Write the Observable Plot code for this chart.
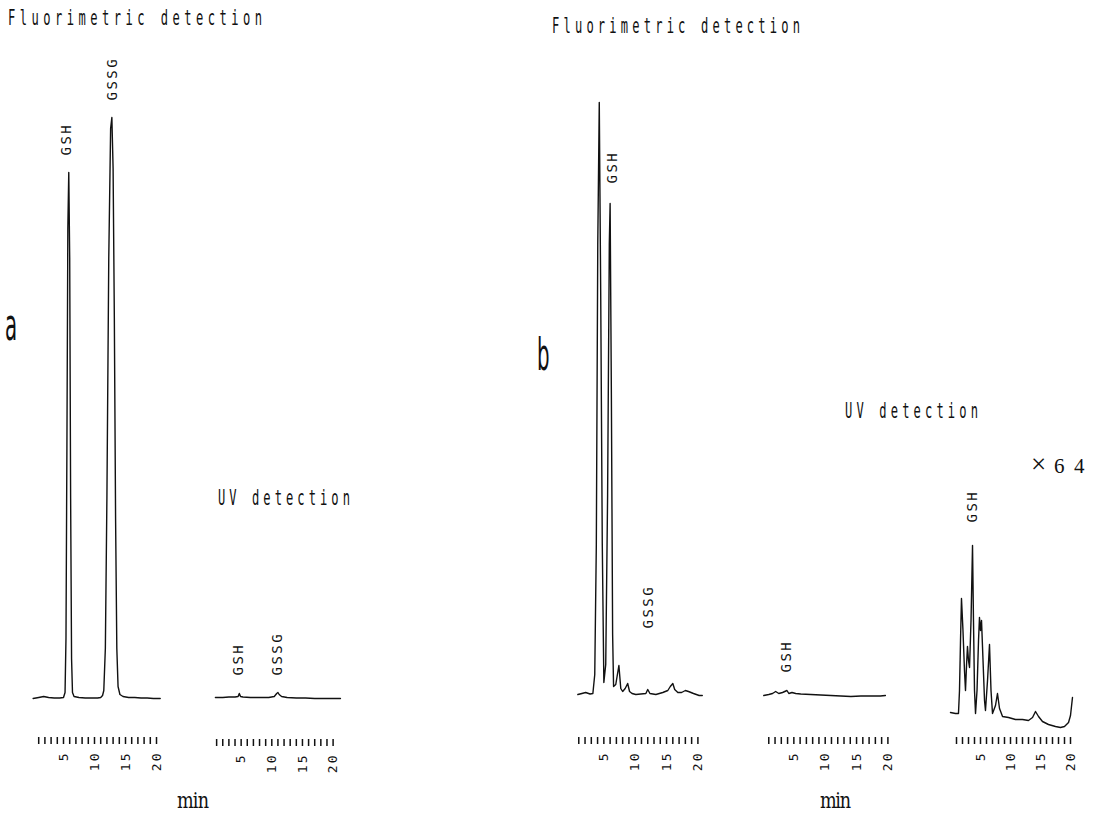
<!DOCTYPE html>
<html><head><meta charset="utf-8">
<script src="https://cdn.jsdelivr.net/npm/d3@7"></script>
<script src="https://cdn.jsdelivr.net/npm/@observablehq/plot@0.6"></script>
<style>
html,body{margin:0;padding:0;background:#fff;}
#fig{position:relative;width:1099px;height:813px;overflow:hidden;background:#fff;}
#fig svg{position:absolute;}
</style></head><body><div id="fig"></div>
<script>
// ---- data (time in min, detector response in arbitrary units) ----
const minuteTicks = [1,2,3,4,5,6,7,8,9,10,11,12,13,14,15,16,17,18,19,20];
const minuteLabels = [5,10,15,20];

// a: standard, fluorimetric detection
const aFluorTime   = [0.1,1.0,1.8,2.6,3.5,4.4,5.0,5.25,5.4,5.55,5.7,5.85,6.0,6.15,6.3,6.45,6.7,7.5,8.5,9.5,10.5,11.0,11.3,11.5,11.75,12.0,12.3,12.6,12.8,13.0,13.2,13.4,13.6,13.8,14.1,14.6,15.5,16.5,17.5,18.5,19.5,20.6];
const aFluorSignal = [0,1,2,1,0.5,0.5,1,6,60,250,470,526,440,200,40,6,2,1,0.5,0.5,0.5,1,3,8,50,200,440,570,581,530,380,180,50,12,4,2,1,1,0.5,0.5,0,0];
const aFluorPeakText = ["GSH","GSSG"];
const aFluorPeakTime = [5.5,12.95];
const aFluorPeakLevel = [543,598];

// a: standard, UV detection
const aUVTime   = [0.8,2.0,3.0,4.0,4.5,4.7,4.9,5.3,6.5,8.0,9.5,10.4,10.8,11.0,11.2,11.6,12.5,14.0,15.5,17.0,18.5,20.0,21.2];
const aUVSignal = [0,0,0.5,0.5,1,4,1,0.5,0,0,0,1,4,5,3,1,0,-0.5,-0.5,-1,-1,-1,-1];
const aUVPeakText = ["GSH","GSSG"];
const aUVPeakTime = [4.5,11.0];
const aUVPeakLevel = [22,22];

// b: sample, fluorimetric detection
const bFluorTime   = [0.85,1.5,2.1,2.8,3.25,3.55,3.8,4.03,4.27,4.5,4.75,5.0,5.3,5.6,5.87,6.0,6.2,6.4,6.55,6.9,7.4,7.7,8.0,8.4,8.8,9.1,9.5,10.1,10.9,11.7,12.0,12.35,13.3,14.4,15.2,15.6,16.0,16.3,16.8,17.4,18.0,18.5,19.3,20.2,20.7];
const bFluorSignal = [0,1,2,0.5,1,20,150,450,592,400,150,12,30,200,450,491,300,60,8,10,29,6,3,6,11,3,1,0,0.5,1,5,1,0,2,4,8,11,5,2,2,4,3,1,-1,-1];
const bFluorPeakText = ["GSH","GSSG"];
const bFluorPeakTime = [6.4,12.2];
const bFluorPeakLevel = [511,66];

// b: sample, UV detection
const bUVTime   = [0.2,1.0,1.6,2.1,2.6,3.2,3.9,4.2,4.7,5.3,6.1,7.7,9.3,10.9,12.5,14.1,15.7,17.3,18.8,19.6];
const bUVSignal = [-1,0,1,3,1,2,4,1,2,1,0.5,0,-0.5,-1,-1.5,-2,-1.5,-1.5,-1.5,-1];
const bUVPeakText = ["GSH"];
const bUVPeakTime = [3.9];
const bUVPeakLevel = [22];

// b: sample, UV detection x64
const bX64Time   = [0,0.83,1.33,1.5,1.67,1.83,2.08,2.33,2.5,2.67,2.83,3.0,3.17,3.42,3.67,3.83,4.0,4.17,4.42,4.67,4.83,5.0,5.17,5.42,5.67,5.83,6.17,6.5,6.75,7.0,7.5,7.83,8.17,8.67,9.67,10.83,12.0,13.0,13.67,14.17,14.67,15.33,16.33,17.5,18.33,19.0,19.67,20.0,20.33];
const bX64Signal = [18,17,17,40,90,132,100,60,40,65,84,70,63,110,185,110,40,17,40,90,113,100,110,70,30,20,50,86,40,17,25,37,22,14,13,11,11,10,13,19,14,9,6,4,3,4,8,15,33];
const bX64PeakText = ["GSH"];
const bX64PeakTime = [3.67];
const bX64PeakLevel = [208];

const fig = document.getElementById("fig");

function panel(time, signal, peakText, peakTime, peakLevel, g) {
  const pts = time.map((t, i) => ({t, v: signal[i]}));
  const lab = peakText.map((s, i) => ({s, t: peakTime[i], v: peakLevel[i]}));
  const mt = 10, ml = 30, mr = 40, mb = 45, ymax = 700, xmax = 21;
  const inset = g.axis - g.base;
  const width = Math.round(ml + xmax * g.k + mr);
  const height = mt + ymax + inset + mb;
  const chart = Plot.plot({
    width, height,
    marginTop: mt, marginLeft: ml, marginRight: width - ml - xmax * g.k, marginBottom: mb,
    x: {domain: [0, xmax], axis: null},
    y: {domain: [0, ymax], axis: null, insetBottom: inset},
    style: {background: "transparent", fontFamily: "DejaVu Sans Mono", overflow: "visible", color: "#111"},
    marks: [
      Plot.line(pts, {x: "t", y: "v", stroke: "#111", strokeWidth: 1.4, curve: "linear"}),
      Plot.text(lab, {x: "t", y: "v", text: "s", rotate: -90, textAnchor: "start", lineAnchor: "middle", fontSize: 14, fill: "#111"}),
      Plot.axisX({ticks: minuteTicks, tickSize: 7, tickFormat: () => "", label: null, stroke: "#111", strokeWidth: 1.5}),
      Plot.text(minuteLabels, {x: d => d, text: d => String(d), frameAnchor: "bottom", dy: 14, rotate: -90, textAnchor: "end", lineAnchor: "middle", fontSize: 13, fill: "#111"})
    ]
  });
  d3.select(chart).selectAll('g[aria-label="text"]').each(function(d, i) {
    this.style.letterSpacing = i === 0 ? "2.5px" : "2px";
  });
  chart.style.left = (g.px0 - ml) + "px";
  chart.style.top = (g.base - ymax - mt) + "px";
  fig.append(chart);
}

panel(aFluorTime, aFluorSignal, aFluorPeakText, aFluorPeakTime, aFluorPeakLevel, {px0: 31.5, k: 6.2, base: 698, axis: 737});
panel(aUVTime, aUVSignal, aUVPeakText, aUVPeakTime, aUVPeakLevel, {px0: 210.3, k: 6.13, base: 697, axis: 739});
panel(bFluorTime, bFluorSignal, bFluorPeakText, bFluorPeakTime, bFluorPeakLevel, {px0: 571.7, k: 6.27, base: 694, axis: 737});
panel(bUVTime, bUVSignal, bUVPeakText, bUVPeakTime, bUVPeakLevel, {px0: 761.7, k: 6.27, base: 694, axis: 737});
panel(bX64Time, bX64Signal, bX64PeakText, bX64PeakTime, bX64PeakLevel, {px0: 950, k: 6.0, base: 730, axis: 737});

// ---- annotation text ----
const overlay = d3.select(fig).append("svg")
  .attr("width", 1099).attr("height", 813)
  .style("left", "0px").style("top", "0px").style("pointer-events", "none");

function label(str, x, y, opts) {
  const sx = opts.sx ?? 1;
  const t = overlay.append("text")
    .attr("transform", `translate(${x},${y}) scale(${sx},1)`)
    .attr("font-family", opts.family)
    .attr("font-size", opts.size)
    .attr("font-weight", opts.weight ?? "normal")
    .attr("fill", "#111")
    .text(str);
  if (opts.width) t.attr("textLength", opts.width / sx).attr("lengthAdjust", "spacing");
  if (opts.spacing) t.style("letter-spacing", opts.spacing + "px");
  return t;
}
const titleFont = {family: "DejaVu Sans Mono", size: 22, sx: 0.55};
label("Fluorimetric detection", 8, 25, {...titleFont, width: 254});
label("Fluorimetric detection", 552, 33, {...titleFont, width: 248});
label("UV detection", 218, 505, {...titleFont, width: 132});
label("UV detection", 845, 418, {...titleFont, width: 133});
label("a", 5, 340, {family: "DejaVu Sans", size: 44, sx: 0.45});
label("b", 537, 370, {family: "DejaVu Sans", size: 44, sx: 0.45});
label("×", 1031, 473, {family: "Liberation Serif", size: 27});
label("6", 1054, 473, {family: "Liberation Serif", size: 21});
label("4", 1074, 473, {family: "Liberation Serif", size: 21});
label("min", 177, 808, {family: "DejaVu Serif", size: 22, sx: 0.8, width: 32});
label("min", 820, 808, {family: "DejaVu Serif", size: 22, sx: 0.8, width: 31});
</script>
</body></html>
